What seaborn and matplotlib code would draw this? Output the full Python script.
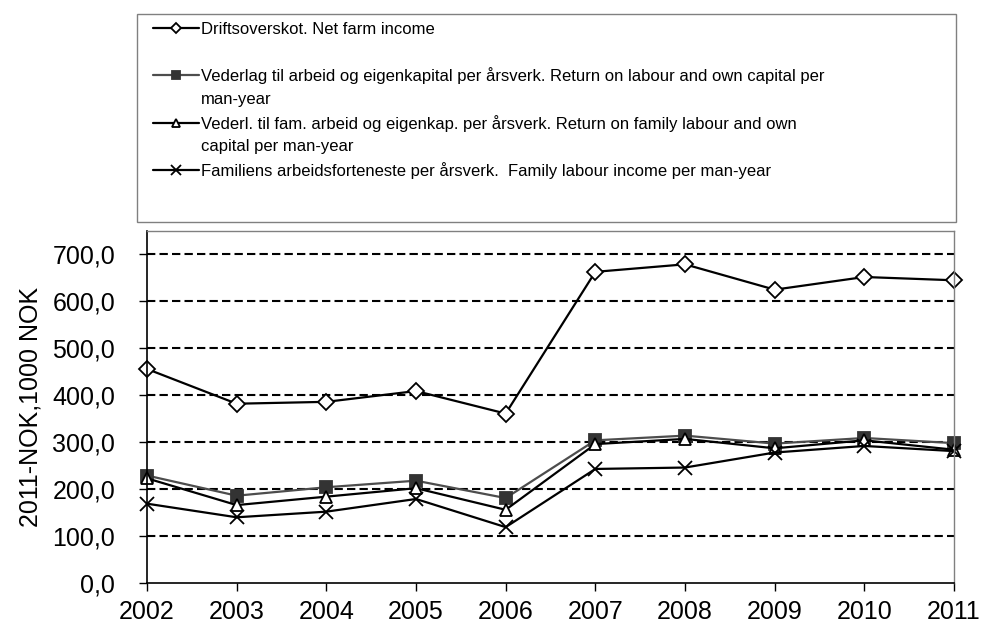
import seaborn as sns
import pandas as pd
import matplotlib.pyplot as plt
from matplotlib.ticker import FuncFormatter
from matplotlib.lines import Line2D
from matplotlib.patches import Rectangle

years = [2002, 2003, 2004, 2005, 2006, 2007, 2008, 2009, 2010, 2011]
net_farm_income = [456, 382, 386, 409, 361, 663, 679, 625, 652, 645]
return_labour_capital = [229, 186, 204, 218, 181, 304, 314, 297, 309, 298]
return_family_labour_capital = [223, 166, 184, 202, 156, 296, 307, 287, 304, 284]
family_labour_income = [169, 140, 152, 179, 119, 243, 246, 278, 292, 281]

labels = [
    "Driftsoverskot. Net farm income",
    "Vederlag til arbeid og eigenkapital per årsverk. Return on labour and own capital per",
    "Vederl. til fam. arbeid og eigenkap. per årsverk. Return on family labour and own",
    "Familiens arbeidsforteneste per årsverk.  Family labour income per man-year",
]

sns.set_style("white")
plt.rcParams['font.family'] = ['Liberation Sans', 'DejaVu Sans']
plt.rcParams['text.color'] = 'black'
plt.rcParams['axes.labelcolor'] = 'black'
plt.rcParams['xtick.color'] = 'black'
plt.rcParams['ytick.color'] = 'black'

fig = plt.figure(figsize=(9.82, 6.25), dpi=100)
ax = fig.add_axes([147 / 982, 42 / 625, 807 / 982, 352 / 625])

# style per series: marker, size, face, edge, line colour
styles = [
    ('D', 8, 'white', 'black', 'black'),
    ('s', 8, '#333333', '#333333', '#4d4d4d'),
    ('^', 9, 'white', 'black', 'black'),
    ('x', 10, 'black', 'black', 'black'),
]
series = [net_farm_income, return_labour_capital,
          return_family_labour_capital, family_labour_income]

for vals, lab, (mk, ms, fc, ec, lc) in zip(series, labels, styles):
    df = pd.DataFrame({'year': years, 'value': vals})
    sns.lineplot(data=df, x='year', y='value', ax=ax, color=lc, lw=1.6,
                 marker=mk, markersize=ms, markerfacecolor=fc,
                 markeredgecolor=ec, markeredgewidth=1.3, clip_on=False,
                 label=lab, legend=False)

ax.set_xlim(2002, 2011)
ax.set_ylim(0, 750)
ax.set_xticks(years)
ax.set_yticks(range(0, 800, 100))
ax.yaxis.set_major_formatter(FuncFormatter(lambda v, p: f"{v:.1f}".replace('.', ',')))
ax.set_xlabel('')
ax.set_ylabel('2011-NOK,1000 NOK', fontsize=18)
ax.yaxis.set_label_coords(-0.130, 0.5)

for y in range(100, 800, 100):
    ax.axhline(y, color='black', lw=1.5, dashes=(4, 2), zorder=0)

ax.tick_params(axis='y', direction='out', length=6, width=1, pad=17, labelsize=18, left=True)
ax.tick_params(axis='x', direction='out', length=6, width=1, pad=6, labelsize=18, bottom=True)
for side in ['left', 'bottom']:
    ax.spines[side].set_color('black')
    ax.spines[side].set_linewidth(1.2)
for side in ['top', 'right']:
    ax.spines[side].set_color('#808080')
    ax.spines[side].set_linewidth(1)

blank = Line2D([], [], color='none')
h = ax.lines[:4]
handles = [h[0], blank, h[1], blank, h[2], blank, h[3]]
leg_labels = [labels[0], '', labels[1], 'man-year', labels[2],
              'capital per man-year', labels[3]]
fig.legend(handles, leg_labels, loc='upper left',
           bbox_to_anchor=(153 / 982, 1 - 22 / 625), frameon=False,
           fontsize=12, borderpad=0, borderaxespad=0, labelspacing=0.46,
           handlelength=2.75, handletextpad=0.15, markerscale=0.7)

fig.patches.append(Rectangle((137 / 982, 1 - 222 / 625), (956 - 137) / 982, 208 / 625,
                             transform=fig.transFigure, fill=False,
                             edgecolor='#808080', lw=1))

fig.savefig('out.png', dpi=100)
